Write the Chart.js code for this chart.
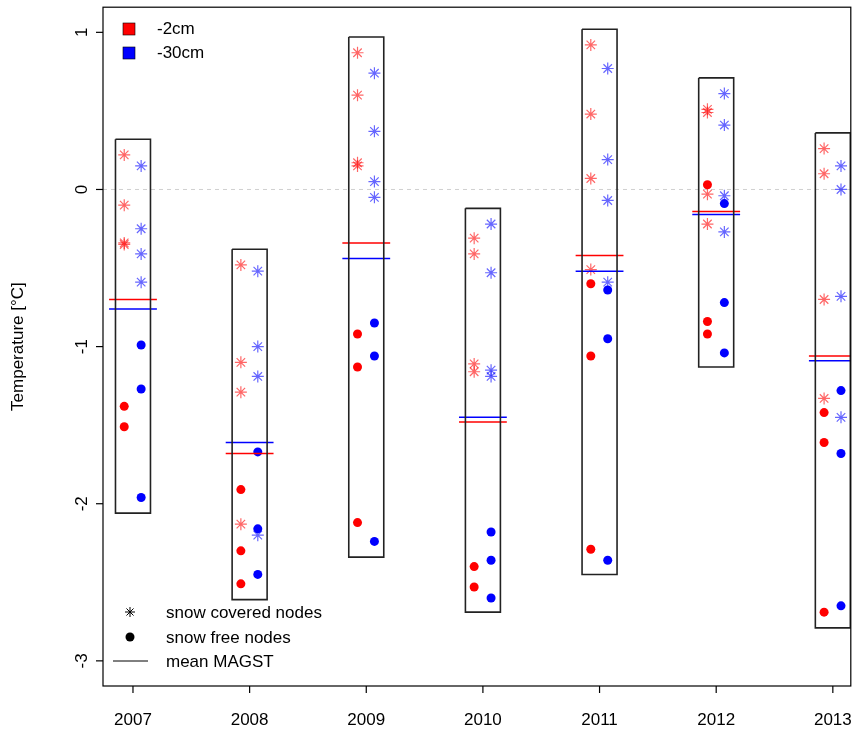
<!DOCTYPE html>
<html><head><meta charset="utf-8">
<script src="https://cdn.jsdelivr.net/npm/chart.js@4/dist/chart.umd.min.js"></script>
<style>html,body{margin:0;background:#fff;overflow:hidden}#w{width:858px;height:738px}</style>
</head><body><div id="w"><canvas id="c"></canvas></div>
<script>
const years=[2007,2008,2009,2010,2011,2012,2013];
const yTicks=[-3,-2,-1,0,1];
const boxTop=[0.32,-0.38,0.97,-0.12,1.02,0.71,0.36];
const boxBottom=[-2.06,-2.61,-2.34,-2.69,-2.45,-1.13,-2.79];
const redStars=[[0.22,-0.10,-0.34,-0.35],[-0.48,-1.10,-1.29,-2.13],[0.87,0.60,0.17,0.15],[-0.31,-0.41,-1.11,-1.16],[0.92,0.48,0.07,-0.51],[0.51,0.49,-0.03,-0.22],[0.26,0.10,-0.70,-1.33]];
const blueStars=[[0.15,-0.25,-0.41,-0.59],[-0.52,-1.00,-1.19,-2.20],[0.74,0.37,0.05,-0.05],[-0.22,-0.53,-1.15,-1.19],[0.77,0.19,-0.07,-0.59],[0.61,0.41,-0.04,-0.27],[0.15,0.00,-0.68,-1.45]];
const redDots=[[-1.38,-1.51],[-1.91,-2.30,-2.51],[-0.92,-1.13,-2.12],[-2.40,-2.53],[-0.60,-1.06,-2.29],[0.03,-0.84,-0.92],[-1.42,-1.61,-2.69]];
const blueDots=[[-0.99,-1.27,-1.96],[-1.67,-2.16,-2.45],[-0.85,-1.06,-2.24],[-2.18,-2.36,-2.60],[-0.64,-0.95,-2.36],[-0.09,-0.72,-1.04],[-1.28,-1.68,-2.65]];
const redMean=[-0.70,-1.68,-0.34,-1.48,-0.42,-0.14,-1.06];
const blueMean=[-0.76,-1.61,-0.44,-1.45,-0.52,-0.16,-1.09];

const RED='#ff0000',BLUE='#0000ff',REDS='rgba(255,0,0,0.6)',BLUES='rgba(0,0,255,0.6)';
const ds=[];
years.forEach((y,i)=>{
  const l=y-0.15,r=y+0.15;
  ds.push({type:'line',data:[{x:l,y:boxTop[i]},{x:r,y:boxTop[i]},{x:r,y:boxBottom[i]},{x:l,y:boxBottom[i]},{x:l,y:boxTop[i]}],borderColor:'#222',borderWidth:1.6,pointRadius:0,fill:false});
  ds.push({type:'line',data:[{x:y-0.205,y:redMean[i]},{x:y+0.205,y:redMean[i]}],borderColor:RED,borderWidth:1.5,pointRadius:0});
  ds.push({type:'line',data:[{x:y-0.205,y:blueMean[i]},{x:y+0.205,y:blueMean[i]}],borderColor:BLUE,borderWidth:1.5,pointRadius:0});
});
const pts=(arr,off)=>arr.flatMap((a,i)=>a.map(v=>({x:years[i]+off,y:v})));
ds.push({type:'scatter',data:pts(redStars,-0.075),pointStyle:'star',pointRadius:6,borderColor:REDS,borderWidth:1.2,backgroundColor:REDS});
ds.push({type:'scatter',data:pts(blueStars,0.07),pointStyle:'star',pointRadius:6,borderColor:BLUES,borderWidth:1.2,backgroundColor:BLUES});
ds.push({type:'scatter',data:pts(redDots,-0.075),pointStyle:'circle',pointRadius:4.5,borderWidth:0,backgroundColor:RED});
ds.push({type:'scatter',data:pts(blueDots,0.07),pointStyle:'circle',pointRadius:4.5,borderWidth:0,backgroundColor:BLUE});

const deco={id:'deco',
 beforeDatasetsDraw(c){const ctx=c.ctx,a=c.chartArea,ys=c.scales.y;
  const z=ys.getPixelForValue(0);ctx.save();ctx.strokeStyle='#d0d0d0';ctx.setLineDash([4,4]);ctx.lineWidth=1;
  ctx.beginPath();ctx.moveTo(a.left,z);ctx.lineTo(a.right,z);ctx.stroke();ctx.restore();},
 afterDraw(c){const ctx=c.ctx,a=c.chartArea,ys=c.scales.y,xs=c.scales.x;
  ctx.save();ctx.strokeStyle='#000';ctx.lineWidth=1.2;ctx.strokeRect(a.left,a.top,a.right-a.left,a.bottom-a.top);
  ctx.font='17px "Liberation Sans", Arial';ctx.fillStyle='#000';
  yTicks.forEach(t=>{const p=ys.getPixelForValue(t);ctx.beginPath();ctx.moveTo(a.left,p);ctx.lineTo(a.left-7,p);ctx.stroke();
    ctx.save();ctx.translate(a.left-20,p);ctx.rotate(-Math.PI/2);ctx.textAlign='center';ctx.textBaseline='bottom';ctx.fillText(String(t),0,8);ctx.restore();});
  years.forEach(y=>{const p=xs.getPixelForValue(y);ctx.beginPath();ctx.moveTo(p,a.bottom);ctx.lineTo(p,a.bottom+7);ctx.stroke();
    ctx.textAlign='center';ctx.textBaseline='middle';ctx.fillText(String(y),p,720);});
  ctx.save();ctx.translate(18,(a.top+a.bottom)/2);ctx.rotate(-Math.PI/2);ctx.textAlign='center';ctx.textBaseline='middle';ctx.fillText('Temperature [°C]',0,0);ctx.restore();
  ctx.textAlign='left';ctx.textBaseline='middle';
  [[RED,'-2cm',29],[BLUE,'-30cm',53]].forEach(([col,t,yy])=>{ctx.fillStyle=col;ctx.fillRect(123,yy-6,12,12);ctx.strokeStyle='#000';ctx.lineWidth=0.6;ctx.strokeRect(123,yy-6,12,12);ctx.fillStyle='#000';ctx.fillText(t,157,yy);});
  ctx.strokeStyle='#000';ctx.lineWidth=1;
  const sx=130,sy=612;for(let k=0;k<4;k++){const an=k*Math.PI/4;ctx.beginPath();ctx.moveTo(sx-5*Math.cos(an),sy-5*Math.sin(an));ctx.lineTo(sx+5*Math.cos(an),sy+5*Math.sin(an));ctx.stroke();}
  ctx.beginPath();ctx.arc(130,637,4.5,0,Math.PI*2);ctx.fill();
  ctx.beginPath();ctx.moveTo(113,661);ctx.lineTo(148,661);ctx.stroke();
  ctx.fillText('snow covered nodes',166,613);ctx.fillText('snow free nodes',166,638);ctx.fillText('mean MAGST',166,662);
  ctx.restore();}
};
new Chart(document.getElementById('c'),{data:{datasets:ds},plugins:[deco],
 options:{responsive:true,maintainAspectRatio:false,animation:false,
  layout:{padding:{left:103,top:5,right:1,bottom:52}},
  plugins:{legend:{display:false},tooltip:{enabled:false}},
  scales:{x:{type:'linear',min:2006.743,max:2013.154,display:false},
          y:{type:'linear',min:-3.16,max:1.16,display:false}}}});
</script></body></html>
